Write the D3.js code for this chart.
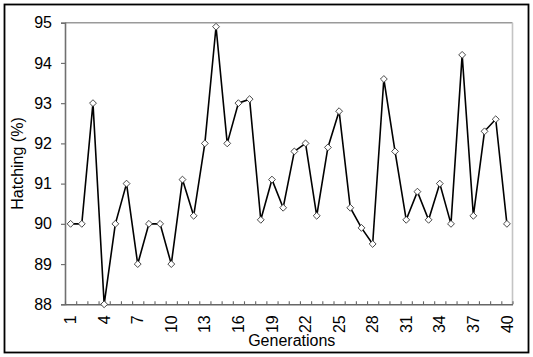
<!DOCTYPE html>
<html>
<head>
<meta charset="utf-8">
<script src="https://cdn.jsdelivr.net/npm/d3@7"></script>
<style>
  html, body { margin: 0; padding: 0; background: #fff; }
  svg { display: block; font-family: "Liberation Sans", Arial, sans-serif; }
</style>
</head>
<body>
<svg id="chart" width="533" height="357"></svg>
<script>
const generations = d3.range(1, 41);
const hatching = [90.0, 90.0, 93.0, 88.0, 90.0, 91.0, 89.0, 90.0, 90.0, 89.0,
                  91.1, 90.2, 92.0, 94.9, 92.0, 93.0, 93.1, 90.1, 91.1, 90.4,
                  91.8, 92.0, 90.2, 91.9, 92.8, 90.4, 89.9, 89.5, 93.6, 91.8,
                  90.1, 90.8, 90.1, 91.0, 90.0, 94.2, 90.2, 92.3, 92.6, 90.0];
const yTicks = [88, 89, 90, 91, 92, 93, 94, 95];
const xTickLabels = [1, 4, 7, 10, 13, 16, 19, 22, 25, 28, 31, 34, 37, 40];

(function () {
const svg = d3.select("#chart");
const pLeft = 65, pRight = 512.5, pTop = 22.7, pBottom = 304.3;

// outer frame
svg.append("rect").attr("x", 4.5).attr("y", 4.5).attr("width", 524).attr("height", 348)
  .attr("fill", "none").attr("stroke", "#000").attr("stroke-width", 1.8);

const x = d3.scaleLinear().domain([0.5, 40.5]).range([pLeft, pRight]);
const y = d3.scaleLinear().domain([88, 95]).range([pBottom, pTop]);

// plot area border (top, right)
svg.append("line").attr("x1", pLeft).attr("x2", pRight).attr("y1", pTop).attr("y2", pTop)
  .attr("stroke", "#9a9a9a").attr("stroke-width", 1.6);
svg.append("line").attr("x1", pRight).attr("x2", pRight).attr("y1", pTop).attr("y2", pBottom)
  .attr("stroke", "#c4c4c4").attr("stroke-width", 1.6);

// y axis
const yAxis = d3.axisLeft(y).tickValues(yTicks).tickSize(4).tickPadding(9).tickFormat(d3.format("d"));
const gy = svg.append("g").attr("transform", `translate(${pLeft},0)`).call(yAxis);
gy.select(".domain").attr("stroke", "#707070").attr("stroke-width", 1.6);
gy.selectAll(".tick line").attr("stroke", "#707070").attr("stroke-width", 1.2);
gy.selectAll(".tick text").attr("font-size", 16).attr("fill", "#000")
  .attr("font-family", "'Liberation Sans', Arial, sans-serif");

// x axis: inside ticks at category boundaries
const boundaries = d3.range(0, 41).map(i => i + 0.5);
const xAxis = d3.axisBottom(x).tickValues(boundaries).tickSize(-3).tickSizeOuter(0).tickFormat("");
const gx = svg.append("g").attr("transform", `translate(0,${pBottom})`).call(xAxis);
gx.select(".domain").attr("stroke", "#666").attr("stroke-width", 1.6);
gx.selectAll(".tick line").attr("stroke", "#666").attr("stroke-width", 1.1);

// x tick labels
svg.append("g").selectAll("text").data(xTickLabels).join("text")
  .attr("transform", d => `translate(${x(d)},${pBottom + 11}) rotate(-90)`)
  .attr("text-anchor", "end").attr("dy", "0.35em")
  .attr("font-size", 16).attr("fill", "#000")
  .text(d => d);

// axis titles
svg.append("text").attr("x", (pLeft + pRight) / 2 + 3).attr("y", 346)
  .attr("text-anchor", "middle").attr("font-size", 16).attr("fill", "#000").text("Generations");
svg.append("text").attr("transform", `translate(23,${(pTop + pBottom) / 2}) rotate(-90)`)
  .attr("text-anchor", "middle").attr("font-size", 16).attr("fill", "#000").text("Hatching (%)");

// line
const line = d3.line().x((d, i) => x(generations[i])).y(d => y(d));
svg.append("path").datum(hatching).attr("d", line)
  .attr("fill", "none").attr("stroke", "#000").attr("stroke-width", 1.6).attr("stroke-linejoin", "miter");

// diamond markers
const diamond = d3.symbol().type(d3.symbolDiamond2).size(30);
svg.append("g").selectAll("path").data(hatching).join("path")
  .attr("transform", (d, i) => `translate(${x(generations[i])},${y(d)})`)
  .attr("d", diamond)
  .attr("fill", "#fff").attr("stroke", "#333").attr("stroke-width", 0.9);
})();
</script>
</body>
</html>
